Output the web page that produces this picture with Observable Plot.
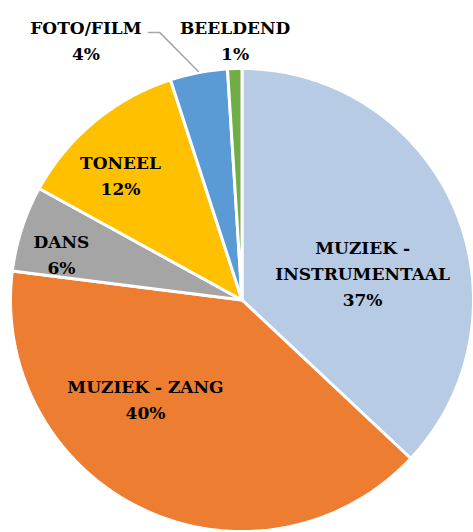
<!DOCTYPE html>
<html>
<head>
<meta charset="utf-8">
<script src="https://cdn.jsdelivr.net/npm/d3@7"></script>
<script src="https://cdn.jsdelivr.net/npm/@observablehq/plot@0.6"></script>
<style>
  html, body { margin: 0; padding: 0; background: #fff; }
  #chart svg { display: block; }
</style>
</head>
<body>
<div id="chart"></div>
<script>
// ---- data ----
const categories = ["MUZIEK - INSTRUMENTAAL", "MUZIEK - ZANG", "DANS", "TONEEL", "FOTO/FILM", "BEELDEND"];
const shares = [37, 40, 6, 12, 4, 1];
const colors = ["#B7CBE5", "#ED7D31", "#A5A5A5", "#FFC000", "#5B9BD5", "#70AD47"];
const labelText = ["MUZIEK -\nINSTRUMENTAAL", "MUZIEK - ZANG", "DANS", "TONEEL", "FOTO/FILM", "BEELDEND"];

// ---- geometry (unit circle, angle clockwise from 12 o'clock) ----
const pie = d3.pie().sort(null).value(d => d)(shares);
const slicePoints = [];
pie.forEach((p, i) => {
  const n = Math.max(4, Math.ceil((p.endAngle - p.startAngle) / 0.01));
  slicePoints.push({name: categories[i], x: 0, y: 0});
  for (let k = 0; k <= n; k++) {
    const a = p.startAngle + (p.endAngle - p.startAngle) * k / n;
    slicePoints.push({name: categories[i], x: Math.sin(a), y: Math.cos(a)});
  }
  slicePoints.push({name: categories[i], x: 0, y: 0});
});

// label anchors in unit-radius coordinates (Excel best-fit placement)
const labelAnchor = {
  "MUZIEK - INSTRUMENTAAL": [0.521, 0.123],
  "MUZIEK - ZANG": [-0.417, -0.421],
  "DANS": [-0.780, 0.205],
  "TONEEL": [-0.525, 0.545],
  "FOTO/FILM": [-0.674, 1.13],
  "BEELDEND": [-0.030, 1.13]
};
const labels = categories.map((c, i) => ({
  name: c,
  text: labelText[i] + "\n" + shares[i] + "%",
  x: labelAnchor[c][0],
  y: labelAnchor[c][1]
}));

// leader line for FOTO/FILM
const fi = categories.indexOf("FOTO/FILM");
const midA = (pie[fi].startAngle + pie[fi].endAngle) / 2;
const leader = [
  {x: Math.sin(midA) * 1.005, y: Math.cos(midA) * 1.005},
  {x: -0.356, y: 1.156},
  {x: -0.404, y: 1.156}
];

const chart = Plot.plot({
  width: 473,
  height: 532,
  margin: 0,
  x: {domain: [-1, 1], range: [10, 473], axis: null},
  y: {domain: [-1, 1], range: [531, 68], axis: null},
  color: {domain: categories, range: colors},
  marks: [
    Plot.line(slicePoints, {
      x: "x", y: "y", z: "name", fill: "name",
      stroke: "white", strokeWidth: 3, strokeLinejoin: "miter", curve: "linear"
    }),
    Plot.line(leader, {x: "x", y: "y", stroke: "#A6A6A6", strokeWidth: 1.5}),
    Plot.text(labels, {
      x: "x", y: "y", text: "text",
      fontSize: 17, fontWeight: "bold", fontFamily: "DejaVu Serif",
      lineHeight: 1.55, fill: "#000"
    })
  ]
});
document.getElementById("chart").appendChild(chart);
</script>
</body>
</html>
